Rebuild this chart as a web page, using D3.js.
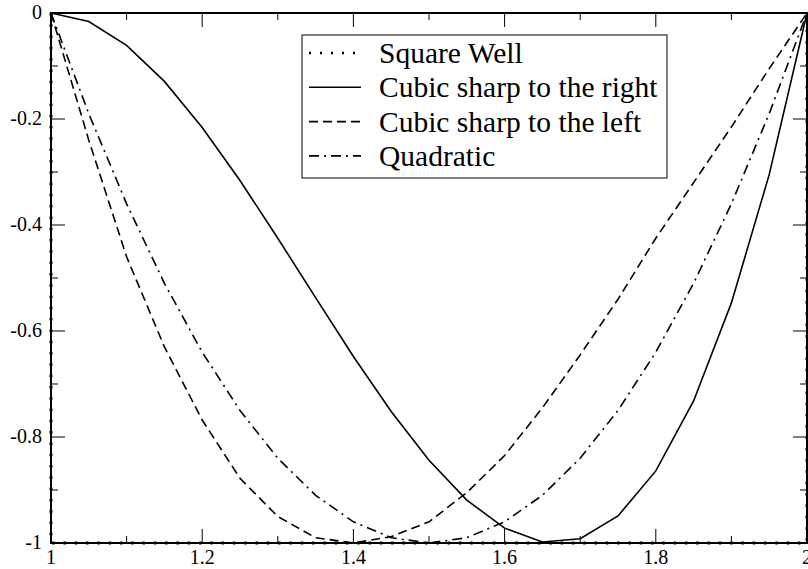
<!DOCTYPE html>
<html>
<head>
<meta charset="utf-8">
<script src="https://cdn.jsdelivr.net/npm/d3@7"></script>
<style>
body { margin: 0; background: #fff; }
svg { display: block; }
</style>
</head>
<body>
<div id="chart"></div>
<script>
const W = 808, H = 569;
const margin = {left: 51, right: 1, top: 13, bottom: 26};
const serif = 'Liberation Serif';

// x samples (step 0.05)
const xs = [1, 1.05, 1.1, 1.15, 1.2, 1.25, 1.3, 1.35, 1.4, 1.45, 1.5,
            1.55, 1.6, 1.65, 1.7, 1.75, 1.8, 1.85, 1.9, 1.95, 2];

const squareWellX = [1, 1, 2, 2];
const squareWellY = [0, -1, -1, 0];

const cubicRight = [0, -0.016, -0.061, -0.129, -0.216, -0.316, -0.425, -0.537, -0.648, -0.752, -0.844,
                    -0.919, -0.972, -0.998, -0.992, -0.949, -0.864, -0.732, -0.547, -0.305, 0];
const cubicLeft = [0, -0.24, -0.46, -0.63, -0.768, -0.878, -0.95, -0.99, -1.0, -0.988, -0.96,
                   -0.905, -0.835, -0.745, -0.645, -0.54, -0.425, -0.32, -0.215, -0.105, 0];
const quadratic = [0, -0.19, -0.36, -0.51, -0.64, -0.75, -0.84, -0.91, -0.96, -0.99, -1.0,
                   -0.99, -0.96, -0.91, -0.84, -0.75, -0.64, -0.51, -0.36, -0.19, 0];

const xTicks = [1, 1.2, 1.4, 1.6, 1.8, 2];
const yTicks = [0, -0.2, -0.4, -0.6, -0.8, -1];
const xMinor = [1.1, 1.3, 1.5, 1.7, 1.9];
const yMinor = [-0.1, -0.3, -0.5, -0.7, -0.9];

const names = ["Square Well", "Cubic sharp to the right", "Cubic sharp to the left", "Quadratic"];
const dashes = ["2.5,8.8", null, "9,5", "10,5,2,5"];
const widths = [3, 1.6, 1.6, 1.6];

const svg = d3.select('#chart').append('svg')
  .attr('width', W).attr('height', H);

const x = d3.scaleLinear().domain([1, 2]).range([margin.left, W - margin.right]);
const y = d3.scaleLinear().domain([-1, 0]).range([H - margin.bottom, margin.top]);

const line = d3.line().x(d => x(d[0])).y(d => y(d[1]));

// frame
svg.append('rect')
  .attr('x', x(1)).attr('y', y(0))
  .attr('width', x(2) - x(1)).attr('height', y(-1) - y(0))
  .attr('fill', 'none').attr('stroke', '#000').attr('stroke-width', 2);

// ticks, all sides, inward
const major = 14, minor = 7;
const t = svg.append('g').attr('stroke', '#000').attr('stroke-width', 1);
xTicks.concat(xMinor).forEach(v => {
  const len = xTicks.includes(v) ? major : minor;
  t.append('line').attr('x1', x(v)).attr('x2', x(v)).attr('y1', y(-1)).attr('y2', y(-1) - len);
  t.append('line').attr('x1', x(v)).attr('x2', x(v)).attr('y1', y(0)).attr('y2', y(0) + len);
});
yTicks.concat(yMinor).forEach(v => {
  const len = yTicks.includes(v) ? major : minor;
  t.append('line').attr('y1', y(v)).attr('y2', y(v)).attr('x1', x(1)).attr('x2', x(1) + len);
  t.append('line').attr('y1', y(v)).attr('y2', y(v)).attr('x1', x(2)).attr('x2', x(2) - len);
});

const series = [
  d3.zip(squareWellX, squareWellY),
  d3.zip(xs, cubicRight),
  d3.zip(xs, cubicLeft),
  d3.zip(xs, quadratic)
];

const plot = svg.append('g');
series.forEach((s, i) => {
  plot.append('path')
    .attr('d', line(s))
    .attr('fill', 'none')
    .attr('stroke', '#000')
    .attr('stroke-width', widths[i])
    .attr('stroke-dasharray', dashes[i]);
});

// tick labels
svg.append('g').selectAll('text').data(xTicks).join('text')
  .attr('x', d => x(d)).attr('y', y(-1) + 21)
  .attr('text-anchor', 'middle')
  .attr('font-family', serif)
  .attr('font-size', 20)
  .text(d => String(d));

svg.append('g').selectAll('text').data(yTicks).join('text')
  .attr('x', x(1) - 9).attr('y', d => y(d) + 6)
  .attr('text-anchor', 'end')
  .attr('font-family', serif)
  .attr('font-size', 20)
  .text(d => String(d));

// legend
const lg = svg.append('g');
lg.append('rect')
  .attr('x', 302).attr('y', 35).attr('width', 365).attr('height', 143)
  .attr('fill', '#fff').attr('stroke', '#000').attr('stroke-width', 1);
names.forEach((n, i) => {
  const yy = 53 + i * 34.3;
  lg.append('line')
    .attr('x1', 309).attr('x2', 361).attr('y1', yy).attr('y2', yy)
    .attr('stroke', '#000').attr('stroke-width', i === 0 ? 2.5 : 1.6)
    .attr('stroke-dasharray', i === 0 ? '2,9' : dashes[i]);
  lg.append('text')
    .attr('x', 379).attr('y', yy + 10)
    .attr('font-family', serif)
    .attr('font-size', 29.5)
    .text(n);
});
</script>
</body>
</html>
